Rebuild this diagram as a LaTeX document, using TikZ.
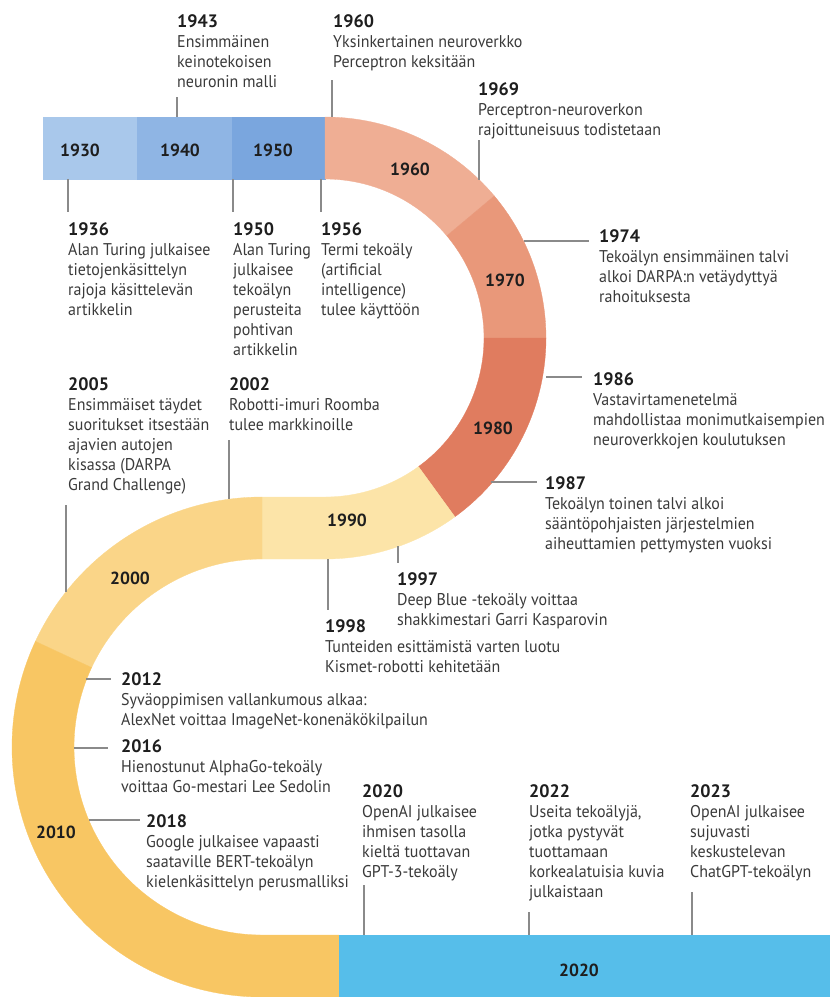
\documentclass[tikz,border=0pt]{standalone}
\usepackage{fontspec}
\setmainfont[FakeStretch=0.94]{PT Sans}
\newfontfamily\yrfont{PT Sans}
\usetikzlibrary{calc}
\definecolor{c1930}{HTML}{A9C8EB}
\definecolor{c1940}{HTML}{8FB5E4}
\definecolor{c1950}{HTML}{7AA6DE}
\definecolor{c1960}{HTML}{EFAE94}
\definecolor{c1970}{HTML}{E9987A}
\definecolor{c1980}{HTML}{E07C5F}
\definecolor{c1990}{HTML}{FCE4A8}
\definecolor{c2000}{HTML}{FAD588}
\definecolor{c2010}{HTML}{F8C663}
\definecolor{c2020}{HTML}{56BEEA}
\definecolor{tickgray}{HTML}{8A8A8A}
\definecolor{yrcol}{HTML}{1E1E1E}
\definecolor{bodycol}{HTML}{3A3A3A}
\tikzset{
  tick/.style={draw=tickgray, line width=1.1pt},
  yr/.style={anchor=base west, inner sep=0pt, font=\yrfont\bfseries\fontsize{18}{20}\selectfont, text=yrcol},
  body/.style={anchor=north west, inner sep=0pt, align=left, font=\fontsize{17}{20}\selectfont, text=bodycol},
  dec/.style={inner sep=0pt, font=\yrfont\bfseries\fontsize{17.5}{20}\selectfont, text=yrcol},
  seg/.style={fill=#1, draw=#1, line width=0.3pt},
}
\newcommand\evt[5]{%
  \node[yr] (y#1) at (#2,#3) {#4};
  \node[body] (b#1) at ($(#2,#3)+(0,6)$) {\strut #5};
}
\begin{document}
\begin{tikzpicture}[x=1pt,y=1pt,yscale=-1]
\useasboundingbox (0,0) rectangle (830,997);
\coordinate (C1) at (325,338);
\coordinate (C2) at (262,747);
% band
\path[seg=c1930] (43,117) rectangle (137,179);
\path[seg=c1940] (137,117) rectangle (232,179);
\path[seg=c1950] (232,117) rectangle (325,179);
\path[seg=c1960] ($(C1)+(-90:221)$) arc[start angle=-90,end angle=-40,radius=221]
  -- ($(C1)+(-40:159)$) arc[start angle=-40,end angle=-90,radius=159] -- cycle;
\path[seg=c1970] ($(C1)+(-40:221)$) arc[start angle=-40,end angle=0,radius=221]
  -- ($(C1)+(0:159)$) arc[start angle=0,end angle=-40,radius=159] -- cycle;
\path[seg=c1980] ($(C1)+(0:221)$) arc[start angle=0,end angle=54,radius=221]
  -- ($(C1)+(54:159)$) arc[start angle=54,end angle=0,radius=159] -- cycle;
\path[seg=c1990] ($(C1)+(54:221)$) arc[start angle=54,end angle=90,radius=221]
  -- (262,559) -- (262,497) -- (325,497) arc[start angle=90,end angle=54,radius=159] -- cycle;
\path[seg=c2000] (262,497) arc[start angle=-90,end angle=-155,radius=250]
  -- ($(C2)+(-155:188)$) arc[start angle=-155,end angle=-90,radius=188] -- cycle;
\path[seg=c2010] ($(C2)+(-155:250)$) arc[start angle=-155,end angle=-270,radius=250]
  -- (339,997) -- (339,935) -- (262,935) arc[start angle=90,end angle=205,radius=188] -- cycle;
\path[seg=c2020] (339,935) rectangle (830,997);
% decade labels
\node[dec] (d1930) at (80,150) {1930};
\node[dec] (d1940) at (180,150) {1940};
\node[dec] (d1950) at (273,150) {1950};
\node[dec] (d1960) at (410,169) {1960};
\node[dec] (d1970) at (505,280) {1970};
\node[dec] (d1980) at (493,428) {1980};
\node[dec] (d1990) at (347,520) {1990};
\node[dec] (d2000) at (130,578) {2000};
\node[dec] (d2010) at (56,832) {2010};
\node[dec] (d2020) at (579,970) {2020};
% events
\evt{1943}{177}{27}{1943}{Ensimmäinen\\keinotekoisen\\neuronin malli}
\evt{1960}{333}{27}{1960}{Yksinkertainen neuroverkko\\Perceptron keksitään}
\evt{1969}{478}{95}{1969}{Perceptron-neuroverkon\\rajoittuneisuus todistetaan}
\evt{1936}{68}{235}{1936}{Alan Turing julkaisee\\tietojenkäsittelyn\\rajoja käsittelevän\\artikkelin}
\evt{1950}{233}{235}{1950}{Alan Turing\\julkaisee\\tekoälyn\\perusteita\\pohtivan\\artikkelin}
\evt{1956}{321}{235}{1956}{Termi tekoäly\\(artificial\\intelligence)\\tulee käyttöön}
\evt{1974}{599}{242}{1974}{Tekoälyn ensimmäinen talvi\\alkoi DARPA:n vetäydyttyä\\rahoituksesta}
\evt{2005}{68}{390}{2005}{Ensimmäiset täydet\\suoritukset itsestään\\ajavien autojen\\kisassa (DARPA\\Grand Challenge)}
\evt{2002}{229}{390}{2002}{Robotti-imuri Roomba\\tulee markkinoille}
\evt{1986}{593}{385}{1986}{Vastavirtamenetelmä\\mahdollistaa monimutkaisempien\\neuroverkkojen koulutuksen}
\evt{1987}{545}{489}{1987}{Tekoälyn toinen talvi alkoi\\sääntöpohjaisten järjestelmien\\aiheuttamien pettymysten vuoksi}
\evt{1997}{397}{585}{1997}{Deep Blue -tekoäly voittaa\\shakkimestari Garri Kasparovin}
\evt{1998}{325}{632}{1998}{Tunteiden esittämistä varten luotu\\Kismet-robotti kehitetään}
\evt{2012}{121}{685}{2012}{Syväoppimisen vallankumous alkaa:\\AlexNet voittaa ImageNet-konenäkökilpailun}
\evt{2016}{121}{752}{2016}{Hienostunut AlphaGo-tekoäly\\voittaa Go-mestari Lee Sedolin}
\evt{2018}{146}{827}{2018}{Google julkaisee vapaasti\\saataville BERT-tekoälyn\\kielenkäsittelyn perusmalliksi}
\evt{2020}{362}{797}{2020}{OpenAI julkaisee\\ihmisen tasolla\\kieltä tuottavan\\GPT-3-tekoäly}
\evt{2022}{529}{797}{2022}{Useita tekoälyjä,\\jotka pystyvät\\tuottamaan\\korkealatuisia kuvia\\julkaistaan}
\evt{2023}{690}{797}{2023}{OpenAI julkaisee\\sujuvasti\\keskustelevan\\ChatGPT-tekoälyn}
% connector end points
\coordinate (k1943a) at (177,97);  \coordinate (k1943b) at (177,117);
\coordinate (k1960a) at (332,80);  \coordinate (k1960b) at (332,117);
\coordinate (k1969a) at (479,140); \coordinate (k1969b) at (479,180);
\coordinate (k1936a) at (68,179);  \coordinate (k1936b) at (68,212);
\coordinate (k1950a) at (233,179); \coordinate (k1950b) at (233,212);
\coordinate (k1956a) at (321,179); \coordinate (k1956b) at (321,212);
\coordinate (k1974a) at (524,241); \coordinate (k1974b) at (589,241);
\coordinate (k1986a) at (546,377); \coordinate (k1986b) at (582,377);
\coordinate (k1987a) at (491,482); \coordinate (k1987b) at (537,482);
\coordinate (k1997a) at (398,546); \coordinate (k1997b) at (398,563);
\coordinate (k1998a) at (328,559); \coordinate (k1998b) at (328,610);
\coordinate (k2002a) at (229,440); \coordinate (k2002b) at (229,499);
\coordinate (k2005a) at (66,505);  \coordinate (k2005b) at (66,592);
\coordinate (k2012a) at (86,679);  \coordinate (k2012b) at (111,679);
\coordinate (k2016a) at (74,748);  \coordinate (k2016b) at (108,748);
\coordinate (k2018a) at (89,820);  \coordinate (k2018b) at (140,820);
\coordinate (k2020a) at (364,885); \coordinate (k2020b) at (364,935);
\coordinate (k2022a) at (529,912); \coordinate (k2022b) at (529,935);
\coordinate (k2023a) at (692,892); \coordinate (k2023b) at (692,935);
\foreach \k in {1943,1960,1969,1936,1950,1956,1974,1986,1987,1997,1998,2002,2005,2012,2016,2018,2020,2022,2023}
  \draw[tick] (k\k a) -- (k\k b);
\end{tikzpicture}
\end{document}
